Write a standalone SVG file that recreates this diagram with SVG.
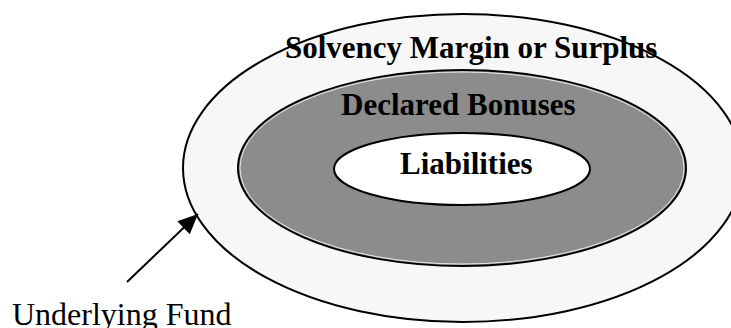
<svg xmlns="http://www.w3.org/2000/svg" width="731" height="328" viewBox="0 0 731 328">
<style>
.ring{stroke:#000;stroke-width:2}
.lbl{font-family:"Liberation Serif","Times New Roman",serif;font-weight:bold;font-size:31px;fill:#000}
.cap{font-family:"Liberation Serif","Times New Roman",serif;font-size:32px;fill:#000}
</style>
<defs>
<marker id="ah" markerWidth="20" markerHeight="18" refX="20" refY="9" orient="auto" markerUnits="userSpaceOnUse" viewBox="0 0 20 18">
<path d="M0,0 L20,9 L0,18 z" fill="#000"/>
</marker>
</defs>
<rect width="731" height="328" fill="#fff"/>
<g id="outer">
<ellipse class="ring" cx="463" cy="168" rx="280" ry="154" fill="#f7f7f7"/>
<text class="lbl" x="285" y="58">Solvency Margin or Surplus</text>
</g>
<g id="middle">
<ellipse class="ring" cx="462" cy="168" rx="224" ry="98" fill="#8c8c8c"/>
<ellipse cx="462" cy="168" rx="222" ry="96" fill="none" stroke="#fff" stroke-width="0.8"/>
<text class="lbl" x="341" y="115">Declared Bonuses</text>
</g>
<g id="inner">
<ellipse class="ring" cx="462" cy="169" rx="128" ry="36" fill="#fff"/>
<text class="lbl" x="400" y="174">Liabilities</text>
</g>
<g id="connectors">
<line x1="127" y1="282" x2="198" y2="214" stroke="#000" stroke-width="2" marker-end="url(#ah)"/>
</g>
<g id="fund">
<text class="cap" x="12" y="325">Underlying Fund</text>
</g>
</svg>
